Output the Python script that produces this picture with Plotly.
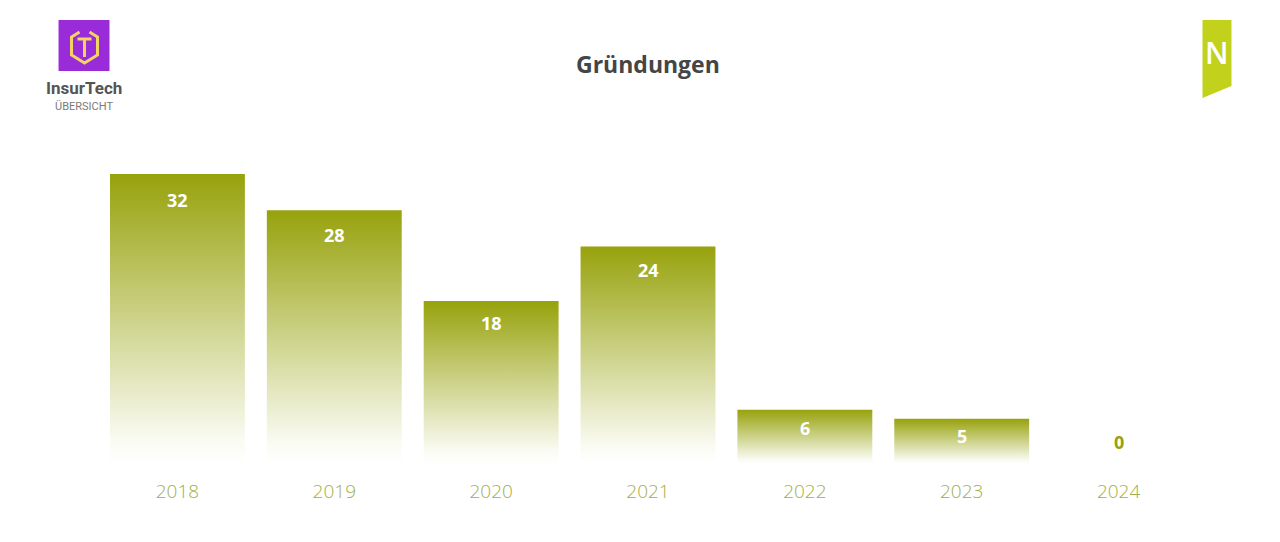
import plotly.graph_objects as go

years = ["2018", "2019", "2020", "2021", "2022", "2023", "2024"]
values = [32, 28, 18, 24, 6, 5, 0]
title_text = "Gründungen"

OLIVE = "#97a20c"
TICK_COLOR = "#a2ae48"
BAR_W = 0.86

# pixel -> paper helpers (plot area: x 98.5..1197.5, y 174..464)
L, R, T, B = 98.5, 1197.5, 174.0, 464.0
PX_PER_UNIT = (B - T) / max(values)
def px(x):
    return (x - L) / (R - L)
def py(y):
    return (B - y) / (B - T)

fig = go.Figure()

for i, (yr, v) in enumerate(zip(years, values)):
    if v <= 0:
        continue
    x0, x1 = i - BAR_W / 2, i + BAR_W / 2
    fig.add_trace(go.Scatter(
        x=[x0, x1, x1, x0, x0], y=[0, 0, v, v, 0],
        mode="lines", fill="toself", line=dict(width=0),
        fillgradient=dict(type="vertical", start=0, stop=v,
                          colorscale=[[0, "rgba(255,255,255,1)"], [0.08, "rgba(250,251,243,1)"], [1, OLIVE]]),
        hoverinfo="skip", showlegend=False, name=yr,
    ))

annotations = []
for i, v in enumerate(values):
    if v > 0:
        annotations.append(dict(x=i, y=v, xref="x", yref="y", text=f"<b>{v}</b>", showarrow=False,
                                yanchor="middle", yshift=-(16 + 0.035 * v * PX_PER_UNIT),
                                font=dict(family="Open Sans", size=18, color="white", weight=800)))
    else:
        annotations.append(dict(x=i, y=0, xref="x", yref="y", text=f"<b>{v}</b>", showarrow=False,
                                yanchor="middle", yshift=22,
                                font=dict(family="Open Sans", size=18, color=OLIVE, weight=800)))

# Title
annotations.append(dict(x=0.5, y=py(64), xref="paper", yref="paper", text=f"<b>{title_text}</b>",
                        showarrow=False, xanchor="center", yanchor="middle",
                        font=dict(family="Open Sans", size=23, color="#454545", weight=800)))
# Left logo texts
annotations.append(dict(x=px(83.5), y=py(88), xref="paper", yref="paper", text="<b>InsurTech</b>",
                        showarrow=False, xanchor="center", yanchor="middle",
                        font=dict(family="Liberation Sans Narrow, Roboto", size=17, color="#555555")))
annotations.append(dict(x=px(83.5), y=py(106), xref="paper", yref="paper", text="ÜBERSICHT",
                        showarrow=False, xanchor="center", yanchor="middle",
                        font=dict(family="Roboto", size=11, color="#7a7a7a")))
# Right logo letter
annotations.append(dict(x=px(1218), y=py(53), xref="paper", yref="paper", text="N",
                        showarrow=False, xanchor="center", yanchor="middle",
                        font=dict(family="Open Sans", size=30, color="white", weight=600)))

def path(points, close=False):
    s = "M " + " L ".join(f"{px(x)},{py(y)}" for x, y in points)
    return s + (" Z" if close else "")

YEL = "#f2d462"
shapes = [
    dict(type="rect", xref="paper", yref="paper", x0=px(58), x1=px(109), y0=py(71), y1=py(20),
         fillcolor="#9a2bd8", line=dict(width=0), layer="above"),
    dict(type="path", xref="paper", yref="paper",
         path=path([(79, 32), (71, 37), (71, 55), (84, 63), (97, 55), (97, 37), (89, 32)]),
         line=dict(color=YEL, width=3), layer="above"),
    dict(type="path", xref="paper", yref="paper",
         path=path([(77, 39), (91, 39)]) + " " + path([(84, 39), (84, 57)]),
         line=dict(color=YEL, width=3), layer="above"),
    dict(type="path", xref="paper", yref="paper",
         path=path([(1203, 20), (1232, 20), (1232, 86), (1203, 98)], close=True),
         fillcolor="#c2d21c", line=dict(width=0), layer="above"),
]

fig.update_layout(
    width=1280, height=542,
    margin=dict(l=L, r=1280 - R, t=T, b=542 - B),
    paper_bgcolor="white", plot_bgcolor="white",
    showlegend=False,
    xaxis=dict(range=[-0.5, len(years) - 0.5], tickmode="array", tickvals=list(range(len(years))),
               ticktext=years, showgrid=False, zeroline=False, showline=False, ticks="",
               tickfont=dict(family="Open Sans", size=19, color=TICK_COLOR, weight=300),
               ticklabelstandoff=14, fixedrange=True),
    yaxis=dict(range=[0, max(values)], showgrid=False, zeroline=False, showline=False,
               showticklabels=False, ticks="", fixedrange=True),
    annotations=annotations, shapes=shapes,
)

fig.write_html("out.html")
